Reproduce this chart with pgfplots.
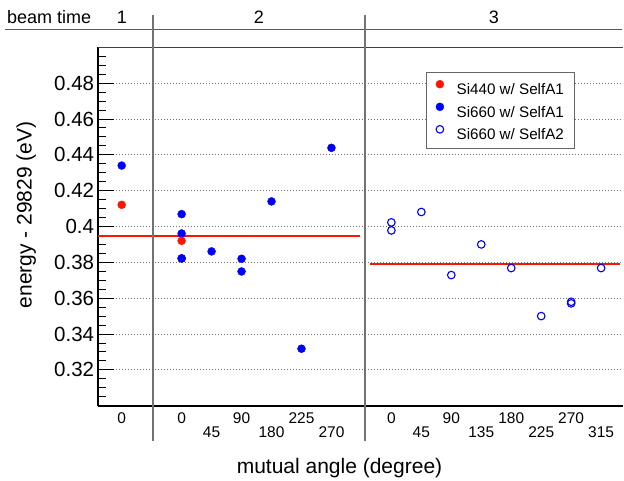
\documentclass[border=0pt]{standalone}
\usepackage{pgfplots}
\pgfplotsset{compat=1.18}
\usepackage{fontspec}
\setmainfont{Liberation Sans}
\definecolor{rootred}{RGB}{255,20,0}
\definecolor{rootblue}{RGB}{0,0,255}
\pgfplotsset{dotlegend/.style={legend image code/.code={\draw[##1] plot coordinates {(0pt,5.4pt)};}}}
\begin{document}
\begin{tikzpicture}[x=1pt,y=1pt]
\path[use as bounding box] (0,0) rectangle (624,480);
\begin{axis}[
  at={(98pt,74.3pt)}, anchor=south west,
  scale only axis, width=525pt, height=358.4pt,
  xmin=-0.791, xmax=16.73, ymin=0.30, ymax=0.50,
  axis x line*=bottom, axis y line*=left,
  axis line style={-, black, line width=1.7pt},
  /pgf/number format/assume math mode=true,
  ytick={0.32,0.34,0.36,0.38,0.40,0.42,0.44,0.46,0.48},
  minor ytick={0.305,0.31,0.315,0.325,0.33,0.335,0.345,0.35,0.355,0.365,0.37,0.375,0.385,0.39,0.395,0.405,0.41,0.415,0.425,0.43,0.435,0.445,0.45,0.455,0.465,0.47,0.475,0.485,0.49,0.495},
  tick align=inside, major tick length=16pt, minor tick length=8pt,
  ytick style={black, line width=0.9pt},
  yticklabel style={font=\fontsize{20.5}{24}\selectfont, inner sep=0pt, xshift=-3.7pt, /pgf/number format/fixed},
  ymajorgrids,
  major grid style={black!55, line width=0.9pt, dash pattern=on 1pt off 2pt},
  xtick={0,2,4,6,9,11,13,15},
  xticklabels={0,0,90,225,0,90,180,270},
  xtick style={draw=none},
  xticklabel style={font=\fontsize{15.5}{18}\selectfont, inner sep=0pt, yshift=-6.3pt},
  extra x ticks={3,5,7,10,12,14,16},
  extra x tick labels={45,180,270,45,135,225,315},
  extra x tick style={xticklabel style={yshift=-14.6pt}},
  legend style={at={(0.6242,0.9297)}, anchor=north west, draw=black!60, fill=white,
    font=\fontsize{15.2}{18}\selectfont, inner xsep=10pt, inner ysep=7.5pt, row sep=7pt,
    nodes={inner sep=0pt},
    /tikz/every odd column/.append style={column sep=12.7pt}},
  legend cell align=left,
]
\addlegendimage{only marks, mark=*, mark size=4pt, color=rootred, mark options={fill=rootred, draw=rootred}, dotlegend}
\addlegendentry{Si440 w/ SelfA1}
\addlegendimage{only marks, mark=*, mark size=4pt, color=rootblue, mark options={fill=rootblue, draw=rootblue}, dotlegend}
\addlegendentry{Si660 w/ SelfA1}
\addlegendimage{only marks, mark=o, mark size=3.8pt, color=rootblue, mark options={line width=1.1pt, draw=rootblue}, dotlegend}
\addlegendentry{Si660 w/ SelfA2}

\addplot[forget plot, mark=none, line width=2pt, color=rootred] coordinates {(-0.791,0.3947) (7.954,0.3947)};
\addplot[forget plot, mark=none, line width=2pt, color=rootred] coordinates {(8.287,0.37908) (16.63,0.37908)};

\addplot[forget plot, only marks, mark=*, mark size=4pt, color=rootblue, mark options={fill=rootblue, draw=rootblue}] coordinates {
(0,0.4340) (2,0.4069) (2,0.3961) (2,0.3822) (2,0.3822) (3,0.3861) (4,0.3820) (4,0.3749) (5,0.4140) (6,0.3318) (7,0.4439)
};
\addplot[forget plot, only marks, mark=*, mark size=4pt, color=rootred, mark options={fill=rootred, draw=rootred}] coordinates {
(0,0.4121) (2,0.3920)
};
\addplot[forget plot, only marks, mark=o, mark size=3.8pt, color=rootblue, mark options={line width=1.1pt, draw=rootblue}] coordinates {
(9,0.4023) (9,0.3978) (10,0.4081) (11,0.3729) (12,0.3900) (13,0.3768) (14,0.3500) (15,0.3580) (15,0.3571) (16,0.3768)
};
\end{axis}
\draw[black!75, line width=0.8pt] (98,432.3) -- (623,432.3);
\draw[black!65, line width=1.2pt] (5,450.7) -- (622,450.7);
\draw[black!55, line width=1.3pt] (153,465) -- (153,39);
\draw[black!55, line width=1.3pt] (365,465) -- (365,39);
\node[anchor=base west, inner sep=0pt, font=\fontsize{18}{20}\selectfont] at (7,456.7) {beam time};
\node[anchor=base, inner sep=0pt, font=\fontsize{18}{20}\selectfont] at (122,456.7) {1};
\node[anchor=base, inner sep=0pt, font=\fontsize{18}{20}\selectfont] at (259,456.7) {2};
\node[anchor=base, inner sep=0pt, font=\fontsize{18}{20}\selectfont] at (494,456.7) {3};
\node[anchor=base, inner sep=0pt, font=\fontsize{21}{24}\selectfont] at (339.5,6.7) {mutual angle (degree)};
\node[anchor=base, rotate=90, inner sep=0pt, font=\fontsize{21}{24}\selectfont] at (31.5,265.1) {energy - 29829 (eV)};
\end{tikzpicture}
\end{document}
